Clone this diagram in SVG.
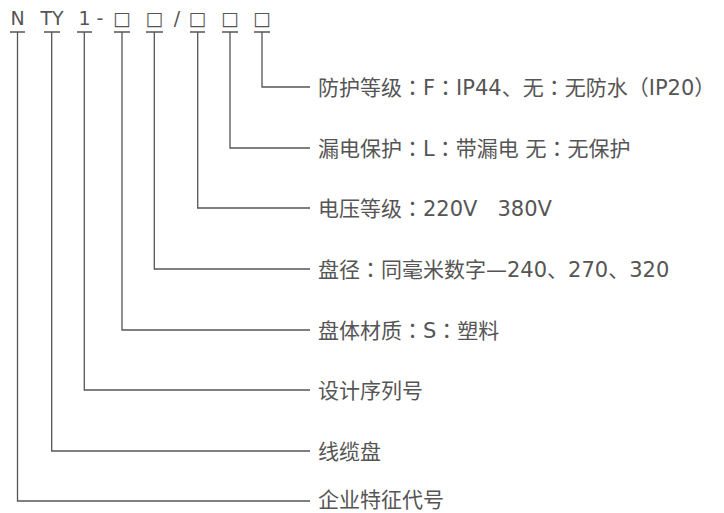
<svg xmlns="http://www.w3.org/2000/svg" width="724" height="513" viewBox="0 0 724 513">
<style>
.t{font-family:"DejaVu Sans","Noto Sans CJK SC",sans-serif;font-size:21px;fill:#555}
.p{font-family:"Noto Sans CJK TC",sans-serif}
.c{font-family:"DejaVu Sans",sans-serif;font-size:19px;fill:#555;text-anchor:middle}
.l{fill:none;stroke:#555;stroke-width:1.3}
</style>
<rect width="724" height="513" fill="#fff"/>
<g id="code">
<text class="c" x="17.5" y="25">N</text>
<text class="c" x="52" y="25">TY</text>
<text class="c" x="84.5" y="25">1</text>
<text class="c" x="100" y="25">-</text>
<text class="c" x="122" y="25">□</text>
<text class="c" x="154.5" y="25">□</text>
<text class="c" x="177" y="25">/</text>
<text class="c" x="197.5" y="25">□</text>
<text class="c" x="230" y="25">□</text>
<text class="c" x="262" y="25">□</text>
</g>
<g id="connectors">
<path class="l" d="M10 32H25M17.5 32V501H310"/>
<path class="l" d="M44 32H60M51.7 32V451H310"/>
<path class="l" d="M77 32H92M84.3 32V390H310"/>
<path class="l" d="M114 32H130M122 32V330H310"/>
<path class="l" d="M146 32H163M154.3 32V269H310"/>
<path class="l" d="M190 32H205M197.7 32V208H310"/>
<path class="l" d="M222 32H238M230 32V148H310"/>
<path class="l" d="M254 32H270M262 32V87H310"/>
</g>
<g id="n1"><text class="t" x="318" y="95">防护等级<tspan class="p">：</tspan>F<tspan class="p">：</tspan>IP44、无<tspan class="p">：</tspan>无防水<tspan class="p">（</tspan>IP20<tspan class="p">）</tspan></text></g>
<g id="n2"><text class="t" x="318" y="156">漏电保护<tspan class="p">：</tspan>L<tspan class="p">：</tspan>带漏电 无<tspan class="p">：</tspan>无保护</text></g>
<g id="n3"><text class="t" x="318" y="216" xml:space="preserve">电压等级<tspan class="p">：</tspan>220V   380V</text></g>
<g id="n4"><text class="t" x="318" y="277">盘径<tspan class="p">：</tspan>同毫米数字—240、270、320</text></g>
<g id="n5"><text class="t" x="318" y="338">盘体材质<tspan class="p">：</tspan>S<tspan class="p">：</tspan>塑料</text></g>
<g id="n6"><text class="t" x="318" y="398">设计序列号</text></g>
<g id="n7"><text class="t" x="318" y="459">线缆盘</text></g>
<g id="n8"><text class="t" x="318" y="507">企业特征代号</text></g>
</svg>
